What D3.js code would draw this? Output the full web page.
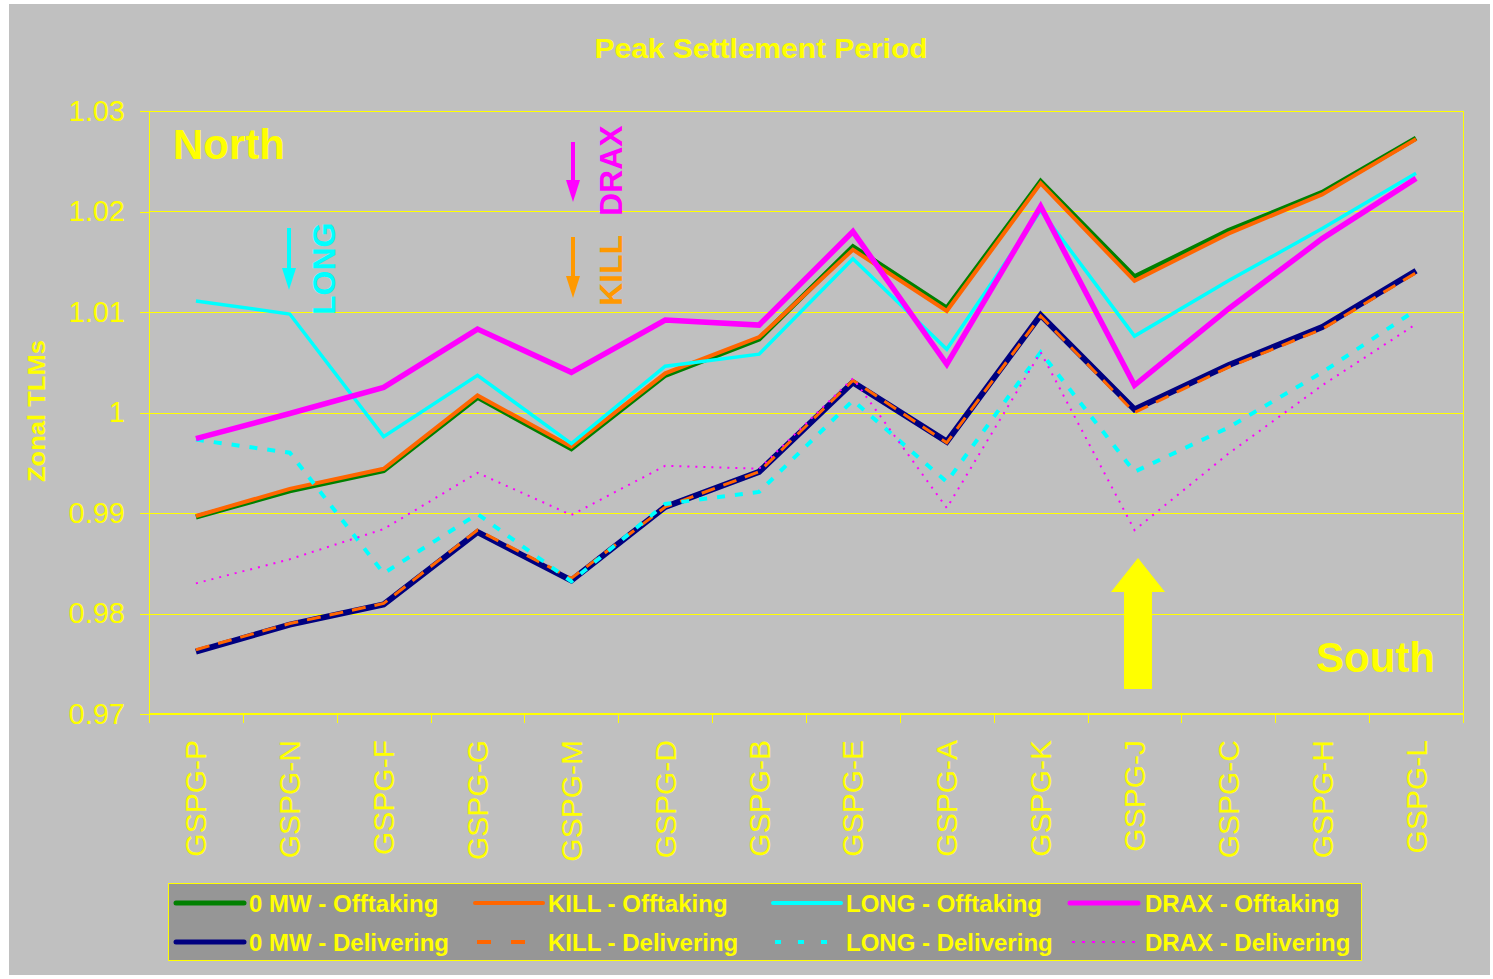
<!DOCTYPE html>
<html><head><meta charset="utf-8">
<script src="https://cdn.jsdelivr.net/npm/d3@7"></script>
<style>html,body{margin:0;padding:0;background:#fff;}svg{display:block;font-family:Arial,"Liberation Sans",sans-serif;}</style>
</head><body>
<svg id="c" width="1493" height="979"></svg>
<script>
const categories = ["GSPG-P","GSPG-N","GSPG-F","GSPG-G","GSPG-M","GSPG-D","GSPG-B","GSPG-E","GSPG-A","GSPG-K","GSPG-J","GSPG-C","GSPG-H","GSPG-L"];
const yTicks = [0.97,0.98,0.99,1.00,1.01,1.02,1.03];
const yTickLabels = ["0.97","0.98","0.99","1","1.01","1.02","1.03"];
const mw0Off  = [0.9896,0.9922,0.9942,1.0015,0.9964,1.0037,1.0073,1.0165,1.0104,1.0230,1.0135,1.0181,1.0219,1.0273];
const mw0Del  = [0.9762,0.9789,0.9809,0.9881,0.9833,0.9906,0.9941,1.0030,0.9971,1.0097,1.0003,1.0047,1.0085,1.0141];
const killOff = [0.9897,0.9924,0.9944,1.0017,0.9966,1.0039,1.0075,1.0162,1.0101,1.0228,1.0131,1.0178,1.0217,1.0272];
const killDel = [0.9764,0.9790,0.9810,0.9883,0.9835,0.9906,0.9941,1.0032,0.9970,1.0096,1.0000,1.0045,1.0083,1.0139];
const longOff = [1.0111,1.0098,0.9976,1.0037,0.9969,1.0046,1.0058,1.0153,1.0063,1.0201,1.0076,1.0131,1.0183,1.0238];
const longDel = [0.9973,0.9960,0.9840,0.9899,0.9832,0.9909,0.9921,1.0012,0.9931,1.0060,0.9941,0.9985,1.0040,1.0102];
const draxOff = [0.9974,0.9999,1.0025,1.0083,1.0040,1.0092,1.0087,1.0180,1.0048,1.0205,1.0027,1.0103,1.0173,1.0233];
const draxDel = [0.9830,0.9854,0.9884,0.9940,0.9898,0.9947,0.9944,1.0034,0.9905,1.0060,0.9883,0.9959,1.0027,1.0088];
const seriesNames = ["0 MW - Offtaking","0 MW - Delivering","KILL - Offtaking","KILL - Delivering","LONG - Offtaking","LONG - Delivering","DRAX - Offtaking","DRAX - Delivering"];

const series = [
  {name:seriesNames[0], values:mw0Off, color:"#008000", width:5, dash:null, lw:5, ldash:null},
  {name:seriesNames[1], values:mw0Del, color:"#000080", width:6, dash:null, lw:5, ldash:null},
  {name:seriesNames[2], values:killOff, color:"#FF6600", width:4, dash:null, lw:4, ldash:null},
  {name:seriesNames[3], values:killDel, color:"#FF6600", width:3, dash:"14,9", lw:4, ldash:"14,20"},
  {name:seriesNames[4], values:longOff, color:"#00FFFF", width:3.5, dash:null, lw:4, ldash:null},
  {name:seriesNames[5], values:longDel, color:"#00FFFF", width:4, dash:"8,10", lw:4, ldash:"6,17"},
  {name:seriesNames[6], values:draxOff, color:"#FF00FF", width:5.5, dash:null, lw:5, ldash:null},
  {name:seriesNames[7], values:draxDel, color:"#FF00FF", width:2, dash:"2,6", lw:2, ldash:"3,7"}
];

const svg = d3.select("#c");
const Y = "#FFFF00";
svg.append("rect").attr("x",9).attr("y",4).attr("width",1481).attr("height",971).attr("fill","#C0C0C0");

const L = 149, R = 1463, T = 111, B = 714;
const x = d3.scaleBand().domain(categories).range([L,R]).padding(0);
const y = d3.scaleLinear().domain([0.97,1.03]).range([B,T]);
const cx = c => x(c) + x.bandwidth()/2;

// gridlines
svg.append("g").attr("shape-rendering","crispEdges").selectAll("line").data(yTicks).join("line")
  .attr("x1",L).attr("x2",R).attr("y1",d=>Math.round(y(d))+0.5).attr("y2",d=>Math.round(y(d))+0.5)
  .attr("stroke",Y).attr("stroke-width",1);
// right border
svg.append("line").attr("shape-rendering","crispEdges").attr("x1",R+0.5).attr("x2",R+0.5).attr("y1",T).attr("y2",B).attr("stroke",Y).attr("stroke-width",1);

// Y axis
const yAxis = d3.axisLeft(y).tickValues(yTicks).tickSize(9).tickFormat((d,i)=>yTickLabels[i]).tickPadding(15);
const gy = svg.append("g").attr("transform",`translate(${L},0)`).call(yAxis);
gy.attr("shape-rendering","crispEdges");
gy.select(".domain").attr("stroke",Y).attr("stroke-width",1);
gy.selectAll(".tick line").attr("stroke",Y).attr("stroke-width",1);
gy.selectAll(".tick text").attr("fill",Y).attr("font-size",29).attr("font-family","Arial, 'Liberation Sans', sans-serif");

// X axis: labels via axis, ticks at boundaries
const xAxis = d3.axisBottom(x).tickSize(0).tickPadding(0);
const gx = svg.append("g").attr("transform",`translate(0,${B})`).call(xAxis);
gx.select(".domain").remove();
gx.selectAll(".tick text")
  .attr("fill",Y).attr("font-size",30).attr("font-family","Arial, 'Liberation Sans', sans-serif")
  .attr("text-anchor","end").attr("dy",null).attr("y",null)
  .attr("transform","translate(10.5,26) rotate(-90)");
svg.append("line").attr("shape-rendering","crispEdges").attr("x1",L).attr("x2",R).attr("y1",B).attr("y2",B).attr("stroke",Y).attr("stroke-width",2);
const bounds = d3.range(categories.length+1).map(i => Math.round(L + i*x.step())+0.5);
svg.append("g").attr("shape-rendering","crispEdges").selectAll("line").data(bounds).join("line")
  .attr("x1",d=>d).attr("x2",d=>d).attr("y1",B).attr("y2",B+9).attr("stroke",Y).attr("stroke-width",1);

// lines
const line = d3.line().x((d,i)=>cx(categories[i])).y(d=>y(d));
svg.append("g").selectAll("path").data(series).join("path")
  .attr("d",d=>line(d.values)).attr("fill","none")
  .attr("stroke",d=>d.color).attr("stroke-width",d=>d.width)
  .attr("stroke-dasharray",d=>d.dash).attr("stroke-linejoin","miter");

// Title
svg.append("text").attr("x",761).attr("y",58).attr("text-anchor","middle")
  .attr("fill",Y).attr("font-weight","bold").attr("font-size",27)
  .attr("textLength",333).attr("lengthAdjust","spacingAndGlyphs").text("Peak Settlement Period");
// Y axis title
svg.append("text").attr("transform","translate(45,411) rotate(-90)").attr("text-anchor","middle")
  .attr("fill",Y).attr("font-weight","bold").attr("font-size",23)
  .attr("textLength",142).attr("lengthAdjust","spacingAndGlyphs").text("Zonal TLMs");

// North / South
svg.append("text").attr("x",173).attr("y",159).attr("fill",Y).attr("font-weight","bold").attr("font-size",42).text("North");
svg.append("text").attr("x",1316).attr("y",672).attr("fill",Y).attr("font-weight","bold").attr("font-size",42).text("South");

// annotation arrows
function downArrow(xc, y0, y1, color){
  svg.append("line").attr("x1",xc).attr("x2",xc).attr("y1",y0).attr("y2",y1-20).attr("stroke",color).attr("stroke-width",4);
  svg.append("path").attr("d",`M${xc-7},${y1-22} L${xc+7},${y1-22} L${xc},${y1} Z`).attr("fill",color);
}
downArrow(289,228,290,"#00FFFF");
downArrow(573,142,202,"#FF00FF");
downArrow(573,237,298,"#FF9900");
function rotLabel(xb, ys, txt, color){
  svg.append("text").attr("transform",`translate(${xb},${ys}) rotate(-90)`).attr("fill",color)
    .attr("font-weight","bold").attr("font-size",32).text(txt);
}
rotLabel(335,315,"LONG","#00FFFF");
rotLabel(622,216,"DRAX","#FF00FF");
rotLabel(622,306,"KILL","#FF9900");

// big yellow up arrow
svg.append("path").attr("d","M1138,558 L1165,592 L1152,592 L1152,689 L1124,689 L1124,592 L1111,592 Z").attr("fill",Y);

// Legend
const lg = svg.append("g");
lg.append("rect").attr("x",168.5).attr("y",883.5).attr("width",1193).attr("height",77).attr("fill","#969696").attr("stroke",Y).attr("stroke-width",1);
const colLine = [176,475,773,1070];
const colText = [249,548,846,1145];
const rowY = [903,942];
const order = [[0,1],[2,3],[4,5],[6,7]];
order.forEach((pair,ci)=>{
  pair.forEach((si,ri)=>{
    const s = series[si];
    const dashed = !!s.ldash;
    lg.append("line").attr("x1",colLine[ci] + (dashed?2:0)).attr("x2",colLine[ci]+68).attr("y1",rowY[ri]).attr("y2",rowY[ri])
      .attr("stroke",s.color).attr("stroke-width",s.lw).attr("stroke-dasharray",s.ldash)
      .attr("stroke-linecap", dashed ? "butt" : "round");
    lg.append("text").attr("x",colText[ci]).attr("y",rowY[ri]).attr("dy","0.36em")
      .attr("fill",Y).attr("font-weight","bold").attr("font-size",24).text(s.name);
  });
});
</script>
</body></html>
